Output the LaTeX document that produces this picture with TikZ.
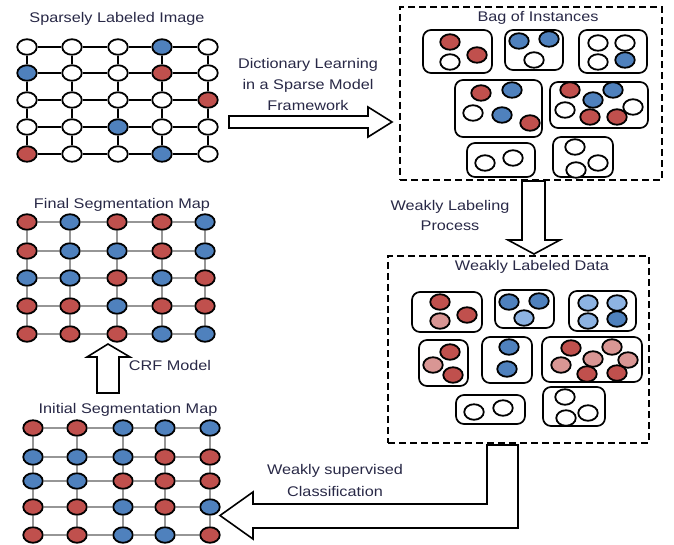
\documentclass[tikz,border=0pt]{standalone}
\usepackage{fontspec}
\setmainfont{Liberation Sans}[FakeStretch=1.16]
\usetikzlibrary{shapes.geometric,fit}
\definecolor{cR}{RGB}{192,80,77}
\definecolor{cB}{RGB}{79,129,189}
\definecolor{cW}{RGB}{255,255,255}
\definecolor{cP}{RGB}{217,150,148}
\definecolor{cL}{RGB}{141,179,226}
\definecolor{tc}{RGB}{40,40,70}
\definecolor{gl}{RGB}{150,150,150}
\tikzset{
  dot/.style={ellipse, draw=black, line width=1.8pt, minimum width=19.5pt, minimum height=15.5pt, inner sep=0pt},
  bagbox/.style={draw=black, line width=1.7pt, rounded corners=8pt, inner sep=0pt},
  dbox/.style={draw=black, line width=1.6pt, dash pattern=on 7pt off 4pt, inner sep=0pt},
  lbl/.style={text=tc, font=\fontsize{14}{21}\selectfont, align=center, inner sep=0pt},
  barrow/.style={draw=black, line width=1.6pt, fill=white, line join=miter},
  blackline/.style={draw=black, line width=1.3pt},
  grayline/.style={draw=gl, line width=1.8pt},
}
\newcommand{\mygrid}[5]{%
  \foreach \rowlist [count=\ri] in {#4} {
    \foreach \cc [count=\ci] in \rowlist {
      \pgfmathsetmacro{\xx}{{#2}[\ci-1]}
      \pgfmathsetmacro{\yy}{{#3}[\ri-1]}
      \node[dot, fill=c\cc] (#1-\ri-\ci) at (\xx,\yy) {};
    }
  }
  \foreach \ri in {1,...,5} {
    \foreach \ci [evaluate=\ci as \cn using int(\ci+1)] in {1,...,4} {
      \draw[#5] (#1-\ri-\ci) -- (#1-\ri-\cn);
      \draw[#5] (#1-\ci-\ri) -- (#1-\cn-\ri);
    }
  }
}
\newcommand{\mybag}[3]{% name, box corners, circles
  \node[bagbox, fit={#2}] (#1) {};
  \foreach \px/\py/\cc [count=\ii] in {#3} {
    \node[dot, fill=c\cc] (#1-\ii) at (\px,\py) {};
  }
}
\begin{document}
\begin{tikzpicture}[x=1pt,y=-1pt]
\useasboundingbox (0,0) rectangle (674,545);

% grids
\mygrid{sp}{27,72,118,162,208}{47,73,100,127,154}{{W,W,W,B,W},{B,W,W,R,W},{W,W,W,W,R},{W,W,B,W,W},{R,W,W,B,W}}{blackline}
\mygrid{fi}{27,70,117,162,205}{222,251,278,306,334}{{R,B,R,R,B},{R,B,B,R,B},{B,B,R,B,R},{R,R,B,R,R},{R,R,R,B,B}}{grayline}
\mygrid{in}{33,77,123,165,210}{428,457,481,507,535}{{R,R,B,B,B},{B,B,B,R,R},{B,B,R,R,R},{R,R,B,R,B},{R,R,B,B,R}}{grayline}

\node[lbl] (tsp) at (117,19) {Sparsely Labeled Image};
\node[lbl] (tfi) at (122,205) {Final Segmentation Map};
\node[lbl] (tin) at (128,410) {Initial Segmentation Map};

% bag of instances
\node[dbox, fit={(400,7) (662,180)}] (bag) {};
\node[lbl] (tbag) at (538,18) {Bag of Instances};
\mybag{b1}{(423,30) (492,73)}{450/42/R, 450/62/W, 477/55/R}
\mybag{b2}{(505,30) (563,70)}{519/41/B, 549/39/B, 534/60/W}
\mybag{b3}{(579,30) (647,73)}{598/43/W, 625/43/W, 598/62/W, 625/60/B}
\mybag{b4}{(455,80) (542,137)}{481/93/R, 512/90/B, 473/113/W, 502/115/B, 530/123/R}
\mybag{b5}{(550,82) (648,128)}{570/90/R, 613/90/B, 593/100/B, 633/107/W, 565/110/W, 590/117/R, 617/117/R}
\mybag{b6}{(467,143) (535,177)}{485/163/W, 513/158/W}
\mybag{b7}{(553,137) (613,177)}{575/147/W, 576/170/W, 598/163/W}

% weakly labeled data
\node[dbox, fit={(388,256) (649,443)}] (wld) {};
\node[lbl] (twld) at (532,267) {Weakly Labeled Data};
\mybag{w1}{(412,292) (482,332)}{440/302/R, 440/321/P, 467/315/R}
\mybag{w2}{(495,290) (554,328)}{509/302/B, 539/301/B, 524/318/L}
\mybag{w3}{(569,291) (636,331)}{588/303/L, 617/303/L, 588/321/L, 617/319/B}
\mybag{w4}{(419,340) (468,386)}{450/352/R, 433/365/P, 453/375/R}
\mybag{w5}{(482,337) (532,383)}{509/347/B, 507/369/B}
\mybag{w6}{(542,337) (642,382)}{571/348/R, 612/347/P, 593/359/P, 628/360/P, 561/365/P, 587/374/R, 617/373/R}
\mybag{w7}{(456,395) (525,424)}{474/412/W, 503/408/W}
\mybag{w8}{(543,387) (605,426)}{565/397/W, 566/418/W, 588/413/W}

% block arrows
\draw[barrow] (229,116) -- (368,116) -- (368,107) -- (392,122) -- (368,137) -- (368,128) -- (229,128) -- cycle;
\node[lbl] (tdict) at (308,84) {Dictionary Learning\\in a Sparse Model\\Framework};

\draw[barrow] (522,181) -- (545,181) -- (545,240) -- (560,240) -- (534,254) -- (508,240) -- (522,240) -- cycle;
\node[lbl] (twl) at (450,215) {Weakly Labeling\\[-1pt]Process};

\draw[barrow] (97,393) -- (97,357) -- (87,357) -- (108,344) -- (130,357) -- (119,357) -- (119,393) -- cycle;
\node[lbl] (tcrf) at (170,365) {CRF Model};

\draw[barrow] (487,445) -- (518,445) -- (518,528) -- (253,528) -- (253,539) -- (220,515.5) -- (253,492) -- (253,504) -- (487,504) -- cycle;
\node[lbl] (twsc) at (335,480) {Weakly supervised\\[1pt]Classification};
\end{tikzpicture}
\end{document}
